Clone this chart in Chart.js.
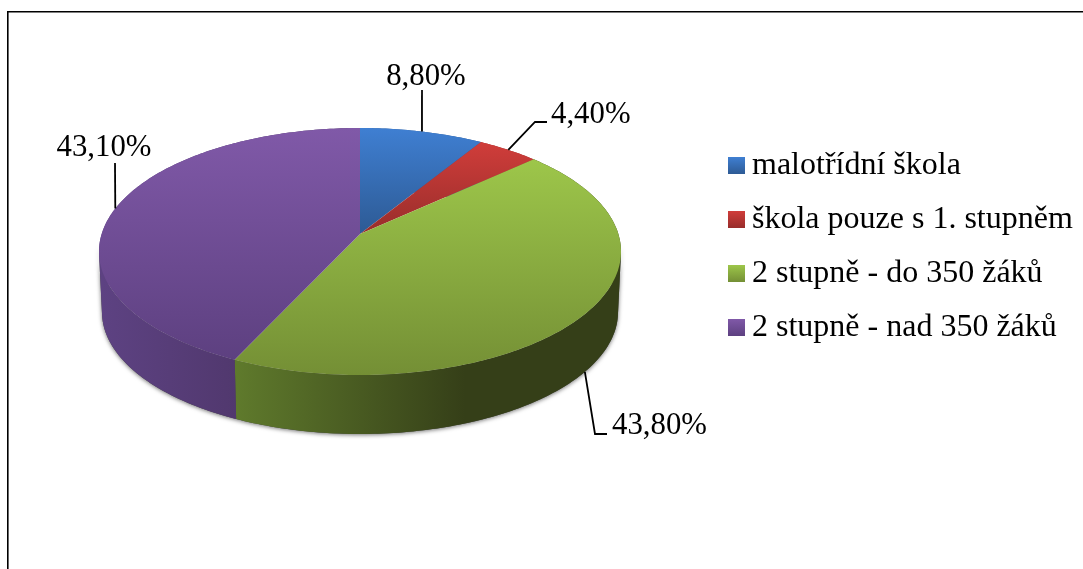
<!DOCTYPE html>
<html>
<head>
<meta charset="utf-8">
<style>
  html, body { margin: 0; padding: 0; background: #fff; overflow: hidden; }
  #wrap { position: relative; width: 1083px; height: 569px; }
</style>
<script src="https://cdn.jsdelivr.net/npm/chart.js@4"></script>
</head>
<body>
<div id="wrap"><canvas id="chart" width="1083" height="569"></canvas></div>
<script>
const categories = ["malotřídní škola", "škola pouze s 1. stupněm", "2 stupně - do 350 žáků", "2 stupně - nad 350 žáků"];
const shares = [8.8, 4.4, 43.8, 43.1];

const topLight = ["#3f7fd2", "#d03d3a", "#9dc64a", "#8059a8"];
const topDark = ["#2d5a94", "#982d2b", "#748f35", "#5d4080"];
const wallLight = ["#2d5a94", "#982d2b", "#5f7a2c", "#5d4282"];
const wallDark = ["#2d5a94", "#982d2b", "#353f18", "#462f5c"];

const FONT = "Liberation Serif";

// the pie is seen in perspective, so the hub sits above the middle of the rim ellipse
const topFace = { x: 360, y: 251.5, rx: 261, ry: 123.5, tilt: -0.142 };
const bottomFace = { x: 360, y: 312, rx: 258, ry: 122, tilt: -0.142 };

// label placement: which face the leader starts on, its bend, its end and the text origin
const leaders = [
  { face: topFace, path: [[422, 90]], text: [426, 85], align: "center" },
  { face: topFace, path: [[535, 122], [547, 122]], text: [551, 123], align: "left" },
  { face: bottomFace, path: [[595, 434], [607, 434]], text: [612, 434], align: "left" },
  { face: topFace, path: [[115, 163]], text: [104, 156], align: "center" }
];

// chart angle to a point on the rim of a face
const rimPoint = (face, angle) => {
  const sx = Math.cos(angle);
  const sy = Math.sin(angle);
  const k = 1 + face.tilt * sy;
  const px = sx * Math.sqrt(1 - face.tilt * face.tilt) / k;
  const py = (sy + face.tilt) / k;
  return [face.x + face.rx * px, face.y + face.ry * py];
};

const rimHub = face => [face.x, face.y + face.ry * face.tilt];

const rimPoints = (face, start, end) => {
  const pts = [];
  const steps = Math.max(2, Math.ceil((end - start) * 60));
  for (let i = 0; i <= steps; i++) {
    pts.push(rimPoint(face, start + (end - start) * i / steps));
  }
  return pts;
};

const tracePoints = (ctx, pts) => {
  ctx.beginPath();
  pts.forEach((p, i) => (i === 0 ? ctx.moveTo(p[0], p[1]) : ctx.lineTo(p[0], p[1])));
  ctx.closePath();
};

// the wall is every sliver between the two rims, all wound the same way so nothing cancels
const traceWall = (ctx, start, end) => {
  const upper = rimPoints(topFace, start, end);
  const lower = rimPoints(bottomFace, start, end);
  ctx.beginPath();
  for (let i = 0; i < upper.length - 1; i++) {
    let quad = [upper[i], upper[i + 1], lower[i + 1], lower[i]];
    let area = 0;
    quad.forEach((p, j) => {
      const q = quad[(j + 1) % 4];
      area += p[0] * q[1] - q[0] * p[1];
    });
    if (area < 0) { quad = quad.reverse(); }
    ctx.moveTo(quad[0][0], quad[0][1]);
    ctx.lineTo(quad[1][0], quad[1][1]);
    ctx.lineTo(quad[2][0], quad[2][1]);
    ctx.lineTo(quad[3][0], quad[3][1]);
    ctx.closePath();
  }
};

const perspectivePie = {
  id: "perspectivePie",
  afterLayout(chart) {
    // legend rows start where the reference has them
    const legend = chart.legend;
    const pad = legend.options.labels.padding;
    legend.left = 728 - pad;
    legend.top = 149.5 - pad;
  },
  beforeDatasetsDraw(chart) {
    const ctx = chart.ctx;
    const arcs = chart.getDatasetMeta(0).data;
    const hub = rimHub(topFace);

    ctx.save();

    // soft shadow under the front half of the disc only
    ctx.shadowColor = "rgba(0,0,0,0.55)";
    ctx.shadowBlur = 4;
    ctx.shadowOffsetY = 1;
    ctx.fillStyle = "#444";
    traceWall(ctx, 0.1, Math.PI - 0.1);
    ctx.fill();
    ctx.shadowColor = "transparent";

    // walls first, the top faces cover whatever is behind
    arcs.forEach((arc, i) => {
      const xs = rimPoints(bottomFace, arc.startAngle, arc.endAngle).map(p => p[0]);
      const x0 = Math.min(...xs);
      let x1 = Math.max(...xs);
      if (i === 2) { x1 = x0 + (x1 - x0) * 0.6; }
      const grad = ctx.createLinearGradient(x0, 0, x1, 0);
      grad.addColorStop(0, wallLight[i]);
      grad.addColorStop(1, wallDark[i]);
      ctx.fillStyle = grad;
      traceWall(ctx, arc.startAngle, arc.endAngle);
      ctx.fill();
    });

    arcs.forEach((arc, i) => {
      const pts = [hub].concat(rimPoints(topFace, arc.startAngle, arc.endAngle));
      const ys = pts.map(p => p[1]);
      const grad = ctx.createLinearGradient(0, Math.min(...ys), 0, Math.max(...ys));
      grad.addColorStop(0, topLight[i]);
      grad.addColorStop(1, topDark[i]);
      ctx.fillStyle = grad;
      tracePoints(ctx, pts);
      ctx.fill();
    });

    // leaders and value labels
    ctx.strokeStyle = "#000";
    ctx.lineWidth = 1.8;
    ctx.fillStyle = "#000";
    ctx.font = "30.8px '" + FONT + "'";
    ctx.textBaseline = "alphabetic";
    arcs.forEach((arc, i) => {
      const lead = leaders[i];
      const start = rimPoint(lead.face, (arc.startAngle + arc.endAngle) / 2);
      ctx.beginPath();
      ctx.moveTo(start[0], start[1]);
      lead.path.forEach(p => ctx.lineTo(p[0], p[1]));
      ctx.stroke();
      ctx.textAlign = lead.align;
      ctx.fillText(shares[i].toFixed(2).replace(".", ",") + "%", lead.text[0], lead.text[1]);
    });

    ctx.restore();
    return false;
  },
  afterDraw(chart) {
    const ctx = chart.ctx;
    const legend = chart.legend;
    const pad = legend.options.labels.padding;
    const fontSize = legend.options.labels.font.size;
    const itemHeight = fontSize + pad;

    ctx.save();
    categories.forEach((name, i) => {
      // legend swatches carry the same gradient as the slices
      const x = legend.left + pad;
      const y = legend.top + pad + i * itemHeight + (fontSize - 17) / 2;
      const grad = ctx.createLinearGradient(0, y, 0, y + 17);
      grad.addColorStop(0, topLight[i]);
      grad.addColorStop(1, topDark[i]);
      ctx.fillStyle = grad;
      ctx.fillRect(x, y, 17, 17);
    });

    // frame of the original figure, cut off at the right and bottom
    ctx.strokeStyle = "#000";
    ctx.lineWidth = 1.6;
    ctx.beginPath();
    ctx.moveTo(7.8, 569);
    ctx.lineTo(7.8, 11.8);
    ctx.lineTo(1083, 11.8);
    ctx.stroke();
    ctx.restore();
  }
};

new Chart(document.getElementById("chart").getContext("2d"), {
  type: "pie",
  data: {
    labels: categories,
    datasets: [{
      data: shares,
      backgroundColor: topLight,
      borderWidth: 0
    }]
  },
  options: {
    responsive: false,
    animation: false,
    plugins: {
      tooltip: { enabled: false },
      legend: {
        position: "right",
        align: "start",
        labels: {
          boxWidth: 8,
          boxHeight: 17,
          padding: 22,
          color: "#000",
          font: { family: FONT, size: 32 }
        }
      }
    }
  },
  plugins: [perspectivePie]
});
</script>
</body>
</html>
